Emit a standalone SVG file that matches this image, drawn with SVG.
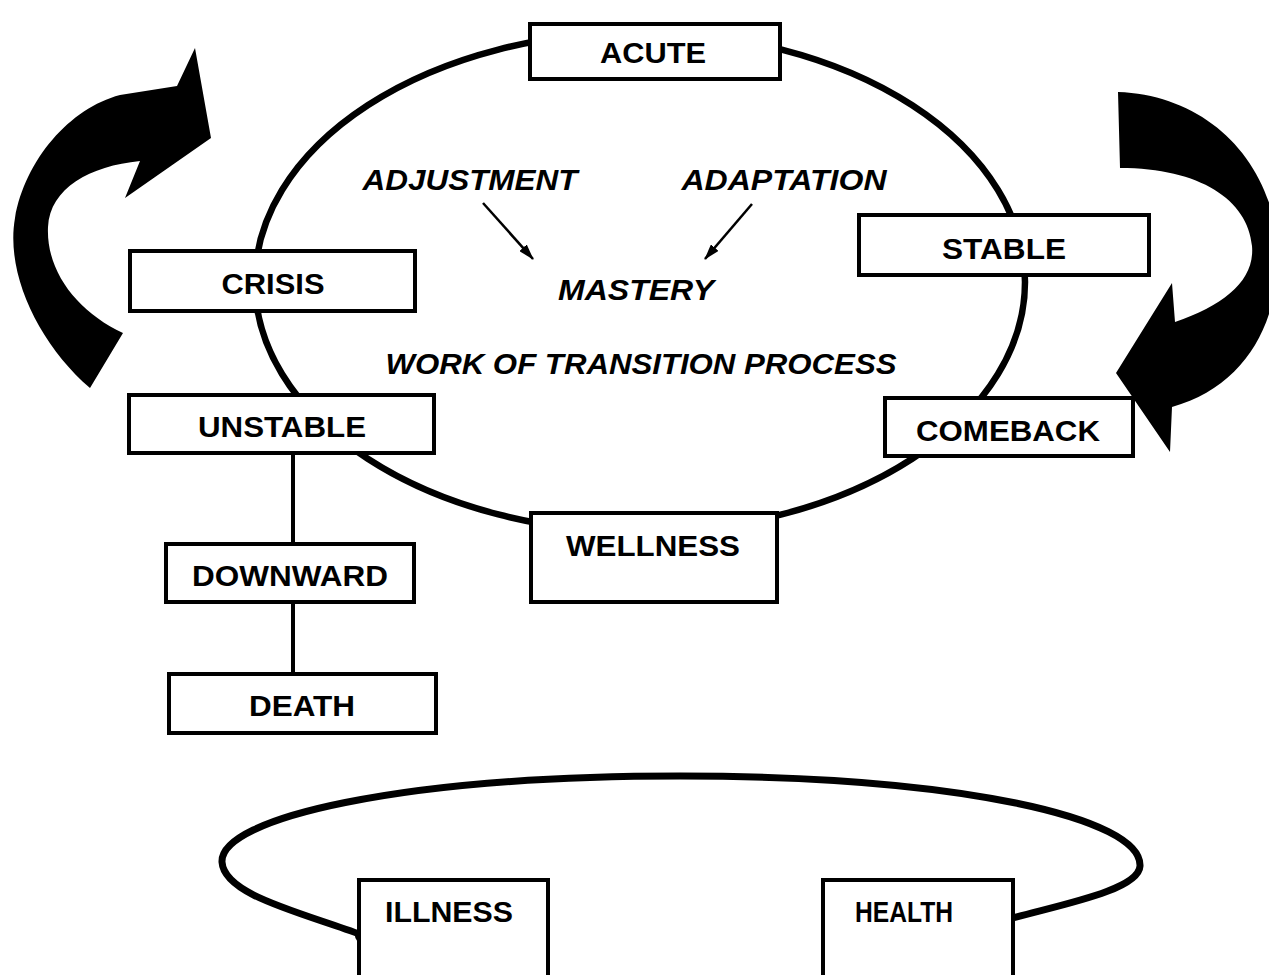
<svg xmlns="http://www.w3.org/2000/svg" width="1269" height="975" viewBox="0 0 1269 975">
<style>
.box{fill:#fff;stroke:#000;stroke-width:4}
.t{font-family:"Liberation Sans",Arial,sans-serif;font-weight:bold;font-size:29px;fill:#000;text-anchor:middle}
.i{font-style:italic}
.ln{fill:none;stroke:#000}
</style>
<defs>
<marker id="ah" viewBox="0 0 16 10" refX="15" refY="5" markerWidth="16" markerHeight="10" markerUnits="userSpaceOnUse" orient="auto">
<path d="M0,0 L16,5 L0,10 Z" fill="#000"/>
</marker>
</defs>
<rect width="1269" height="975" fill="#fff"/>
<g id="connectors">
<ellipse class="ln" cx="640" cy="282" rx="385" ry="250" stroke-width="6.5"/>
<line class="ln" x1="293" y1="452" x2="293" y2="543" stroke-width="4"/>
<line class="ln" x1="293" y1="602" x2="293" y2="673" stroke-width="4"/>
<path class="ln" stroke-width="7" d="M362,935 C300,912 224,895 222,862 C220,818 400,776 680,776 C960,776 1142,818 1140,866 C1139,890 1060,905 1013,918"/>
<circle cx="361" cy="936" r="6" fill="#000"/>
<line class="ln" x1="483" y1="203" x2="533" y2="259" stroke-width="2.5" marker-end="url(#ah)"/>
<line class="ln" x1="752" y1="204" x2="705" y2="259" stroke-width="2.5" marker-end="url(#ah)"/>
<path id="arrow-left" fill="#000" d="M90,388 C40,345 5,275 15,218 C25,160 70,108 120,95 L177,86 L195,48 L211,138 L125,198 L140,161 C90,166 50,188 48,227 C46,272 78,312 123,333 Z"/>
<path id="arrow-right" fill="#000" d="M1118,92 C1200,95 1262,150 1276,230 C1286,310 1252,385 1172,407 L1170,452 L1116,373 L1172,283 L1175,322 C1225,305 1255,280 1252,246 C1248,200 1200,168 1120,168 Z"/>
</g>
<g id="acute"><rect class="box" x="530" y="24" width="250" height="55"/><text class="t" x="653" y="63" textLength="106" lengthAdjust="spacingAndGlyphs">ACUTE</text></g>
<g id="crisis"><rect class="box" x="130" y="251" width="285" height="60"/><text class="t" x="273" y="294" textLength="103" lengthAdjust="spacingAndGlyphs">CRISIS</text></g>
<g id="stable"><rect class="box" x="859" y="215" width="290" height="60"/><text class="t" x="1004" y="259" textLength="124" lengthAdjust="spacingAndGlyphs">STABLE</text></g>
<g id="unstable"><rect class="box" x="129" y="395" width="305" height="58"/><text class="t" x="282" y="437" textLength="168" lengthAdjust="spacingAndGlyphs">UNSTABLE</text></g>
<g id="comeback"><rect class="box" x="885" y="398" width="248" height="58"/><text class="t" x="1008" y="441" textLength="184" lengthAdjust="spacingAndGlyphs">COMEBACK</text></g>
<g id="wellness"><rect class="box" x="531" y="513" width="246" height="89"/><text class="t" x="653" y="556" textLength="174" lengthAdjust="spacingAndGlyphs">WELLNESS</text></g>
<g id="downward"><rect class="box" x="166" y="544" width="248" height="58"/><text class="t" x="290" y="586" textLength="196" lengthAdjust="spacingAndGlyphs">DOWNWARD</text></g>
<g id="death"><rect class="box" x="169" y="674" width="267" height="59"/><text class="t" x="302" y="716" textLength="106" lengthAdjust="spacingAndGlyphs">DEATH</text></g>
<g id="illness"><rect class="box" x="359" y="880" width="189" height="100"/><text class="t" x="449" y="922" textLength="128" lengthAdjust="spacingAndGlyphs">ILLNESS</text></g>
<g id="health"><rect class="box" x="823" y="880" width="190" height="100"/><text class="t" x="904" y="922" textLength="98" lengthAdjust="spacingAndGlyphs">HEALTH</text></g>
<g id="labels">
<text class="t i" x="470" y="190" textLength="215" lengthAdjust="spacingAndGlyphs">ADJUSTMENT</text>
<text class="t i" x="784" y="190" textLength="205" lengthAdjust="spacingAndGlyphs">ADAPTATION</text>
<text class="t i" x="636" y="300" textLength="156" lengthAdjust="spacingAndGlyphs">MASTERY</text>
<text class="t i" x="641" y="374" textLength="511" lengthAdjust="spacingAndGlyphs">WORK OF TRANSITION PROCESS</text>
</g>
</svg>
